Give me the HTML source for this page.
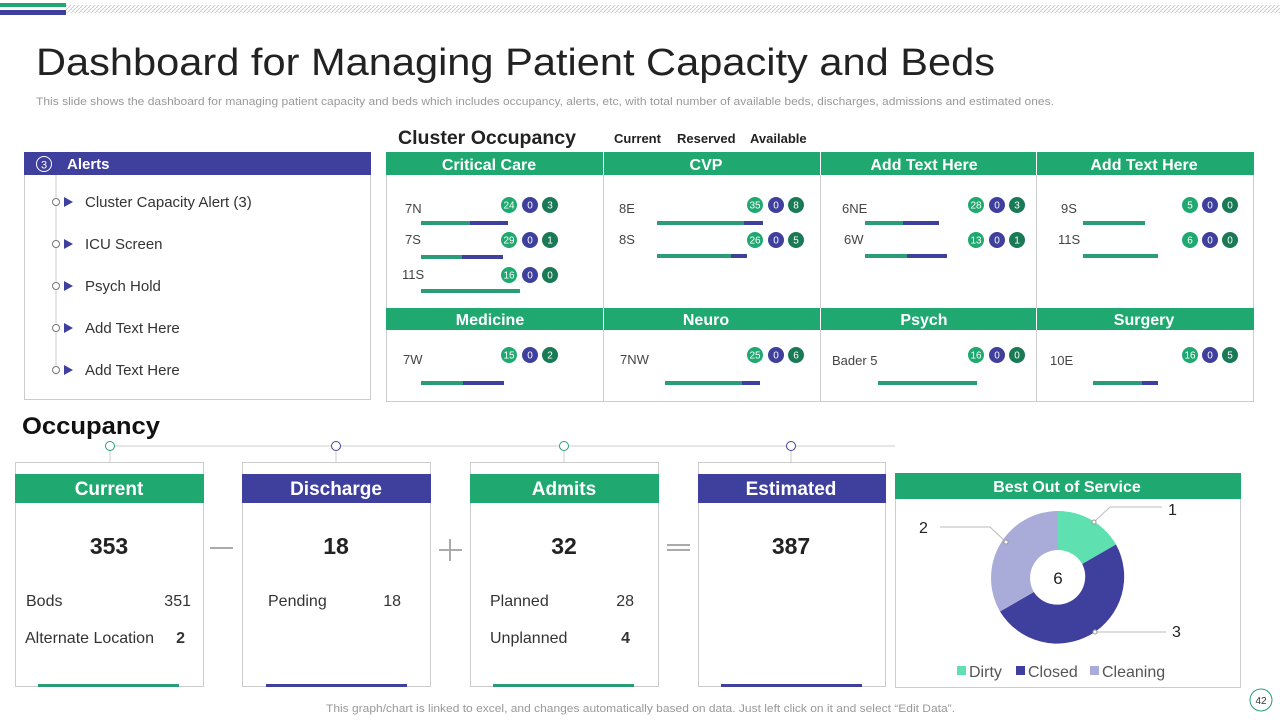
<!DOCTYPE html>
<html><head><meta charset="utf-8"><style>
html,body{margin:0;padding:0;background:#fff;width:1280px;height:720px;overflow:hidden}
svg text{font-family:"Liberation Sans",sans-serif}
</style></head><body>
<svg width="1280" height="720" viewBox="0 0 1280 720" xmlns="http://www.w3.org/2000/svg">
<defs><pattern id="hatch" width="4" height="4" patternUnits="userSpaceOnUse"><path d="M0 4L4 0" stroke="#ccc" stroke-width="1"/></pattern></defs>
<rect x="0" y="3" width="66" height="4" fill="#1fa971"/>
<rect x="0" y="10" width="66" height="5" fill="#3f3f9e"/>
<rect x="66" y="5" width="1214" height="8" fill="url(#hatch)"/>
<text x="36" y="75" font-size="38" fill="#222" textLength="959" lengthAdjust="spacingAndGlyphs">Dashboard for Managing Patient Capacity and Beds</text>
<text x="36" y="105" font-size="11" fill="#999" textLength="1018" lengthAdjust="spacingAndGlyphs">This slide shows the dashboard for managing patient capacity and beds which includes occupancy, alerts, etc, with total number of available beds, discharges, admissions and estimated ones.</text>

<!-- Alerts -->
<rect x="24.5" y="152.5" width="346" height="247" fill="#fff" stroke="#ccc"/>
<rect x="24" y="152" width="347" height="23" fill="#3f3f9e"/>
<circle cx="44" cy="164" r="7.5" fill="none" stroke="#fff"/>
<text x="44" y="168.5" font-size="11" fill="#fff" text-anchor="middle">3</text>
<text x="67" y="169" font-size="15" font-weight="bold" fill="#fff">Alerts</text>
<line x1="56" y1="175" x2="56" y2="375" stroke="#ccc"/>
<g font-size="15" fill="#333">
<g transform="translate(0,202)"><circle cx="56" cy="0" r="3.5" fill="#fff" stroke="#777"/><path d="M64 -5L73 0L64 5Z" fill="#3f3f9e"/><text x="85" y="5">Cluster Capacity Alert (3)</text></g>
<g transform="translate(0,244)"><circle cx="56" cy="0" r="3.5" fill="#fff" stroke="#777"/><path d="M64 -5L73 0L64 5Z" fill="#3f3f9e"/><text x="85" y="5">ICU Screen</text></g>
<g transform="translate(0,286)"><circle cx="56" cy="0" r="3.5" fill="#fff" stroke="#777"/><path d="M64 -5L73 0L64 5Z" fill="#3f3f9e"/><text x="85" y="5">Psych Hold</text></g>
<g transform="translate(0,328)"><circle cx="56" cy="0" r="3.5" fill="#fff" stroke="#777"/><path d="M64 -5L73 0L64 5Z" fill="#3f3f9e"/><text x="85" y="5">Add Text Here</text></g>
<g transform="translate(0,370)"><circle cx="56" cy="0" r="3.5" fill="#fff" stroke="#777"/><path d="M64 -5L73 0L64 5Z" fill="#3f3f9e"/><text x="85" y="5">Add Text Here</text></g>
</g>

<!-- Cluster occupancy -->
<text x="398" y="144" font-size="19" font-weight="bold" fill="#222" textLength="178" lengthAdjust="spacingAndGlyphs">Cluster Occupancy</text>
<text x="614" y="143" font-size="13" font-weight="bold" fill="#222">Current</text>
<text x="677" y="143" font-size="13" font-weight="bold" fill="#222">Reserved</text>
<text x="750" y="143" font-size="13" font-weight="bold" fill="#222">Available</text>
<rect x="386.5" y="152.5" width="867" height="249" fill="#fff" stroke="#ccc"/>
<rect x="386" y="152" width="868" height="23" fill="#1fa971"/>
<rect x="386" y="308" width="868" height="22" fill="#1fa971"/>
<g stroke="#ccc"><line x1="603.5" y1="152" x2="603.5" y2="402"/><line x1="820.5" y1="152" x2="820.5" y2="402"/><line x1="1036.5" y1="152" x2="1036.5" y2="402"/></g>
<g stroke="#fff"><line x1="603.5" y1="152" x2="603.5" y2="175"/><line x1="820.5" y1="152" x2="820.5" y2="175"/><line x1="1036.5" y1="152" x2="1036.5" y2="175"/><line x1="603.5" y1="308" x2="603.5" y2="330"/><line x1="820.5" y1="308" x2="820.5" y2="330"/><line x1="1036.5" y1="308" x2="1036.5" y2="330"/></g>
<g font-size="16" font-weight="bold" fill="#fff" text-anchor="middle">
<text x="489" y="170">Critical Care</text><text x="706" y="170">CVP</text><text x="924" y="170">Add Text Here</text><text x="1144" y="170">Add Text Here</text>
<text x="490" y="325">Medicine</text><text x="706" y="325">Neuro</text><text x="924" y="325">Psych</text><text x="1144" y="325">Surgery</text>
</g>
<g font-size="13" fill="#444">
<text x="405" y="213">7N</text><text x="405" y="244">7S</text><text x="402" y="279">11S</text>
<text x="619" y="213">8E</text><text x="619" y="244">8S</text>
<text x="842" y="213">6NE</text><text x="844" y="244">6W</text>
<text x="1061" y="213">9S</text><text x="1058" y="244">11S</text>
<text x="403" y="364">7W</text><text x="620" y="364">7NW</text><text x="832" y="365">Bader 5</text><text x="1050" y="365">10E</text>
</g>
<g>
<rect x="421" y="221" width="49" height="4" fill="#2a9d78"/><rect x="470" y="221" width="38" height="4" fill="#3f3f9e"/>
<rect x="421" y="255" width="41" height="4" fill="#2a9d78"/><rect x="462" y="255" width="41" height="4" fill="#3f3f9e"/>
<rect x="421" y="289" width="99" height="4" fill="#2a9d78"/>
<rect x="657" y="221" width="87" height="4" fill="#2a9d78"/><rect x="744" y="221" width="19" height="4" fill="#3f3f9e"/>
<rect x="657" y="254" width="74" height="4" fill="#2a9d78"/><rect x="731" y="254" width="16" height="4" fill="#3f3f9e"/>
<rect x="865" y="221" width="38" height="4" fill="#2a9d78"/><rect x="903" y="221" width="36" height="4" fill="#3f3f9e"/>
<rect x="865" y="254" width="42" height="4" fill="#2a9d78"/><rect x="907" y="254" width="40" height="4" fill="#3f3f9e"/>
<rect x="1083" y="221" width="62" height="4" fill="#2a9d78"/>
<rect x="1083" y="254" width="75" height="4" fill="#2a9d78"/>
<rect x="421" y="381" width="42" height="4" fill="#2a9d78"/><rect x="463" y="381" width="41" height="4" fill="#3f3f9e"/>
<rect x="665" y="381" width="77" height="4" fill="#2a9d78"/><rect x="742" y="381" width="18" height="4" fill="#3f3f9e"/>
<rect x="878" y="381" width="99" height="4" fill="#2a9d78"/>
<rect x="1093" y="381" width="49" height="4" fill="#2a9d78"/><rect x="1142" y="381" width="16" height="4" fill="#3f3f9e"/>
</g>
<g font-size="10" fill="#fff" text-anchor="middle">
<g transform="translate(509,205)"><circle r="8" fill="#1fa971"/><text y="3.5">24</text><circle cx="21" r="8" fill="#3f3f9e"/><text x="21" y="3.5">0</text><circle cx="41" r="8" fill="#1a7a56"/><text x="41" y="3.5">3</text></g>
<g transform="translate(509,240)"><circle r="8" fill="#1fa971"/><text y="3.5">29</text><circle cx="21" r="8" fill="#3f3f9e"/><text x="21" y="3.5">0</text><circle cx="41" r="8" fill="#1a7a56"/><text x="41" y="3.5">1</text></g>
<g transform="translate(509,275)"><circle r="8" fill="#1fa971"/><text y="3.5">16</text><circle cx="21" r="8" fill="#3f3f9e"/><text x="21" y="3.5">0</text><circle cx="41" r="8" fill="#1a7a56"/><text x="41" y="3.5">0</text></g>
<g transform="translate(755,205)"><circle r="8" fill="#1fa971"/><text y="3.5">35</text><circle cx="21" r="8" fill="#3f3f9e"/><text x="21" y="3.5">0</text><circle cx="41" r="8" fill="#1a7a56"/><text x="41" y="3.5">8</text></g>
<g transform="translate(755,240)"><circle r="8" fill="#1fa971"/><text y="3.5">26</text><circle cx="21" r="8" fill="#3f3f9e"/><text x="21" y="3.5">0</text><circle cx="41" r="8" fill="#1a7a56"/><text x="41" y="3.5">5</text></g>
<g transform="translate(976,205)"><circle r="8" fill="#1fa971"/><text y="3.5">28</text><circle cx="21" r="8" fill="#3f3f9e"/><text x="21" y="3.5">0</text><circle cx="41" r="8" fill="#1a7a56"/><text x="41" y="3.5">3</text></g>
<g transform="translate(976,240)"><circle r="8" fill="#1fa971"/><text y="3.5">13</text><circle cx="21" r="8" fill="#3f3f9e"/><text x="21" y="3.5">0</text><circle cx="41" r="8" fill="#1a7a56"/><text x="41" y="3.5">1</text></g>
<g transform="translate(1190,205)"><circle r="8" fill="#1fa971"/><text y="3.5">5</text><circle cx="20" r="8" fill="#3f3f9e"/><text x="20" y="3.5">0</text><circle cx="40" r="8" fill="#1a7a56"/><text x="40" y="3.5">0</text></g>
<g transform="translate(1190,240)"><circle r="8" fill="#1fa971"/><text y="3.5">6</text><circle cx="20" r="8" fill="#3f3f9e"/><text x="20" y="3.5">0</text><circle cx="40" r="8" fill="#1a7a56"/><text x="40" y="3.5">0</text></g>
<g transform="translate(509,355)"><circle r="8" fill="#1fa971"/><text y="3.5">15</text><circle cx="21" r="8" fill="#3f3f9e"/><text x="21" y="3.5">0</text><circle cx="41" r="8" fill="#1a7a56"/><text x="41" y="3.5">2</text></g>
<g transform="translate(755,355)"><circle r="8" fill="#1fa971"/><text y="3.5">25</text><circle cx="21" r="8" fill="#3f3f9e"/><text x="21" y="3.5">0</text><circle cx="41" r="8" fill="#1a7a56"/><text x="41" y="3.5">6</text></g>
<g transform="translate(976,355)"><circle r="8" fill="#1fa971"/><text y="3.5">16</text><circle cx="21" r="8" fill="#3f3f9e"/><text x="21" y="3.5">0</text><circle cx="41" r="8" fill="#1a7a56"/><text x="41" y="3.5">0</text></g>
<g transform="translate(1190,355)"><circle r="8" fill="#1fa971"/><text y="3.5">16</text><circle cx="20" r="8" fill="#3f3f9e"/><text x="20" y="3.5">0</text><circle cx="40" r="8" fill="#1a7a56"/><text x="40" y="3.5">5</text></g>
</g>

<!-- Occupancy -->
<text x="22" y="434" font-size="24" font-weight="bold" fill="#111" textLength="138" lengthAdjust="spacingAndGlyphs">Occupancy</text>
<line x1="110" y1="446" x2="895" y2="446" stroke="#ccc"/>
<g stroke="#ccc"><line x1="110" y1="446" x2="110" y2="462"/><line x1="336" y1="446" x2="336" y2="462"/><line x1="564" y1="446" x2="564" y2="462"/><line x1="791" y1="446" x2="791" y2="462"/></g>
<circle cx="110" cy="446" r="4.5" fill="#fff" stroke="#2a9d78"/>
<circle cx="336" cy="446" r="4.5" fill="#fff" stroke="#3f3f9e"/>
<circle cx="564" cy="446" r="4.5" fill="#fff" stroke="#2a9d78"/>
<circle cx="791" cy="446" r="4.5" fill="#fff" stroke="#3f3f9e"/>
<g fill="#fff" stroke="#ccc">
<rect x="15.5" y="462.5" width="188" height="224"/><rect x="242.5" y="462.5" width="188" height="224"/><rect x="470.5" y="462.5" width="188" height="224"/><rect x="698.5" y="462.5" width="187" height="224"/>
</g>
<rect x="15" y="474" width="189" height="29" fill="#1fa971"/>
<rect x="242" y="474" width="189" height="29" fill="#3f3f9e"/>
<rect x="470" y="474" width="189" height="29" fill="#1fa971"/>
<rect x="698" y="474" width="188" height="29" fill="#3f3f9e"/>
<g font-size="19" font-weight="bold" fill="#fff" text-anchor="middle">
<text x="109" y="495">Current</text><text x="336" y="495">Discharge</text><text x="564" y="495">Admits</text><text x="791" y="495">Estimated</text>
</g>
<g font-size="23" font-weight="bold" fill="#222" text-anchor="middle">
<text x="109" y="554">353</text><text x="336" y="554">18</text><text x="564" y="554">32</text><text x="791" y="554">387</text>
</g>
<g font-size="16" fill="#333">
<text x="26" y="606">Bods</text><text x="191" y="606" text-anchor="end">351</text>
<text x="25" y="643">Alternate Location</text><text x="185" y="643" text-anchor="end" font-weight="bold">2</text>
<text x="268" y="606">Pending</text><text x="401" y="606" text-anchor="end">18</text>
<text x="490" y="606">Planned</text><text x="634" y="606" text-anchor="end">28</text>
<text x="490" y="643">Unplanned</text><text x="630" y="643" text-anchor="end" font-weight="bold">4</text>
</g>
<rect x="38" y="684" width="141" height="3" fill="#2a9d78"/>
<rect x="266" y="684" width="141" height="3" fill="#3f3f9e"/>
<rect x="493" y="684" width="141" height="3" fill="#2a9d78"/>
<rect x="721" y="684" width="141" height="3" fill="#3f3f9e"/>
<g stroke="#aaa" stroke-width="2">
<line x1="210" y1="548" x2="233" y2="548"/>
<line x1="439" y1="550" x2="462" y2="550"/><line x1="450" y1="539" x2="450" y2="561"/>
<line x1="667" y1="545" x2="690" y2="545"/><line x1="667" y1="550" x2="690" y2="550"/>
</g>

<!-- Donut -->
<rect x="895.5" y="473.5" width="345" height="214" fill="#fff" stroke="#ccc"/>
<rect x="895" y="473" width="346" height="26" fill="#1fa971"/>
<text x="1067" y="492" font-size="16" font-weight="bold" fill="#fff" text-anchor="middle">Best Out of Service</text>
<path d="M1058 511 A67 67 0 0 1 1116 544.5 L1082.2 564 A28 28 0 0 0 1058 550 Z" fill="#5ee0b0"/>
<path d="M1116 544.5 A67 67 0 0 1 1000 611.5 L1033.8 592 A28 28 0 0 0 1082.2 564 Z" fill="#3f3f9e"/>
<path d="M1000 611.5 A67 67 0 0 1 1058 511 L1058 550 A28 28 0 0 0 1033.8 592 Z" fill="#a9acd9"/>
<text x="1058" y="584" font-size="17" fill="#222" text-anchor="middle">6</text>
<g stroke="#bbb" fill="none"><path d="M1094 522 L1110 507 L1162 507"/><path d="M940 527 L990 527 L1006 542"/><path d="M1095 632 L1166 632"/></g>
<g fill="#fff" stroke="#999"><circle cx="1094" cy="522" r="2"/><circle cx="1006" cy="542" r="2"/><circle cx="1095" cy="632" r="2"/></g>
<g font-size="16" fill="#222"><text x="1168" y="515">1</text><text x="919" y="533">2</text><text x="1172" y="637">3</text></g>
<g font-size="16" fill="#555">
<rect x="957" y="666" width="9" height="9" fill="#5ee0b0"/><text x="969" y="677">Dirty</text>
<rect x="1016" y="666" width="9" height="9" fill="#3f3f9e"/><text x="1028" y="677">Closed</text>
<rect x="1090" y="666" width="9" height="9" fill="#a9acd9"/><text x="1102" y="677">Cleaning</text>
</g>
<text x="326" y="712" font-size="11" fill="#999" textLength="629" lengthAdjust="spacingAndGlyphs">This graph/chart is linked to excel,  and changes automatically based on data. Just left click on it and select “Edit Data”.</text>
<circle cx="1261" cy="700" r="11" fill="#fff" stroke="#2a9d78"/>
<text x="1261" y="704" font-size="10" fill="#333" text-anchor="middle">42</text>
</svg>
</body></html>
